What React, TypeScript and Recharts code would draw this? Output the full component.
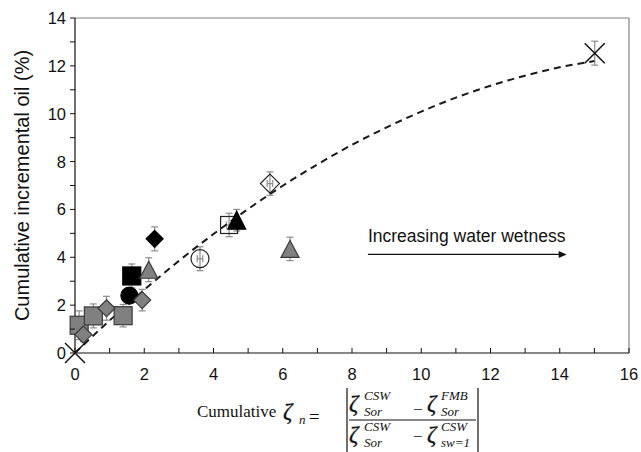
import React from "react";
import { ErrorBar, Label, ReferenceLine, Scatter, ScatterChart, XAxis, YAxis } from "recharts";

const SANS = "Arial, 'Liberation Sans', sans-serif";
const SERIF = "'Times New Roman', 'Liberation Serif', serif";

const X_TICKS = [0, 1, 2, 3, 4, 5, 6, 7, 8, 9, 10, 11, 12, 13, 14, 15, 16];
const Y_TICKS = [0, 1, 2, 3, 4, 5, 6, 7, 8, 9, 10, 11, 12, 13, 14];

// dashed trend line
const trendX = [0, 1, 2, 3, 4, 5, 6, 7, 8, 9, 10, 11, 12, 13, 14, 15];
const trendY = [0, 1.36, 2.64, 3.85, 4.97, 6.02, 6.99, 7.88, 8.7, 9.43, 10.09, 10.67, 11.17, 11.59, 11.94, 12.2];

const crossPts = [
  { x: 0, y: 0, err: 0 },
  { x: 15.01, y: 12.53, err: 0.5 },
];
const graySquarePts = [
  { x: 0.12, y: 1.16, err: 0.6 },
  { x: 0.53, y: 1.55, err: 0.5 },
  { x: 1.39, y: 1.56, err: 0.47 },
];
const grayDiamondPts = [
  { x: 0.24, y: 0.77, err: 0.3 },
  { x: 0.91, y: 1.87, err: 0.5 },
  { x: 1.94, y: 2.21, err: 0.45 },
];
const blackCirclePts = [{ x: 1.57, y: 2.4, err: 0.2 }];
const blackSquarePts = [{ x: 1.64, y: 3.22, err: 0.5 }];
const grayTrianglePts = [
  { x: 2.13, y: 3.48, err: 0.5 },
  { x: 6.21, y: 4.35, err: 0.49 },
];
const blackDiamondPts = [{ x: 2.3, y: 4.77, err: 0.5 }];
const openCirclePts = [{ x: 3.61, y: 3.94, err: 0.5, xerr: 0.08 }];
const openSquarePts = [{ x: 4.45, y: 5.35, err: 0.49, xerr: 0.08 }];
const blackTrianglePts = [{ x: 4.67, y: 5.55, err: 0.45 }];
const openDiamondPts = [{ x: 5.63, y: 7.08, err: 0.49, xerr: 0.08 }];

const arrowFrom = { x: 8.46, y: 4.12 };
const arrowTo = { x: 14.2, y: 4.12 };

const trendData = trendX.map((x, i) => ({ x, y: trendY[i] }));

const GRAY = "#808080";
const EDGE = "#3a3a3a";
const BAR = "#8c8c8c";

const square = (side: number, fill: string, stroke: string) => (p: any) => (
  <rect x={p.cx - side / 2} y={p.cy - side / 2} width={side} height={side} fill={fill} stroke={stroke} strokeWidth={1.2} />
);
const diamond = (h: number, fill: string, stroke: string) => (p: any) => (
  <polygon
    points={`${p.cx},${p.cy - h} ${p.cx + h},${p.cy} ${p.cx},${p.cy + h} ${p.cx - h},${p.cy}`}
    fill={fill}
    stroke={stroke}
    strokeWidth={1.2}
  />
);
const triangle = (w: number, h: number, fill: string, stroke: string) => (p: any) => (
  <polygon
    points={`${p.cx},${p.cy - h / 2} ${p.cx + w / 2},${p.cy + h / 2} ${p.cx - w / 2},${p.cy + h / 2}`}
    fill={fill}
    stroke={stroke}
    strokeWidth={1.2}
  />
);
const circle = (r: number, fill: string, stroke: string) => (p: any) => (
  <circle cx={p.cx} cy={p.cy} r={r} fill={fill} stroke={stroke} strokeWidth={1.2} />
);
const cross = (h: number) => (p: any) => (
  <g stroke="#111" strokeWidth={1.5}>
    <line x1={p.cx - h} y1={p.cy - h} x2={p.cx + h} y2={p.cy + h} />
    <line x1={p.cx - h} y1={p.cy + h} x2={p.cx + h} y2={p.cy - h} />
  </g>
);

function XTick(props: any) {
  const { x, y, payload } = props;
  const v = payload.value;
  return (
    <g>
      <line x1={x} y1={y} x2={x} y2={y - 5} stroke="#111" />
      {v % 2 === 0 && (
        <text x={x} y={y + 27} textAnchor="middle" fontSize={16.5} fontFamily={SANS} fill="#111">
          {v}
        </text>
      )}
    </g>
  );
}

function YTick(props: any) {
  const { x, y, payload } = props;
  const v = payload.value;
  return (
    <g>
      <line x1={x - 5} y1={y} x2={x} y2={y} stroke="#111" />
      {v % 2 === 0 && (
        <text x={x - 9} y={y + 6} textAnchor="end" fontSize={16.5} fontFamily={SANS} fill="#111">
          {v}
        </text>
      )}
    </g>
  );
}

function YTitle(props: any) {
  const vb = props.viewBox;
  const cx = vb.x + 22;
  const cy = vb.y + vb.height / 2;
  return (
    <text
      x={cx}
      y={cy}
      transform={`rotate(-90, ${cx}, ${cy})`}
      textAnchor="middle"
      dominantBaseline="central"
      fontSize={20}
      fontFamily={SANS}
      fill="#111"
    >
      Cumulative incremental oil (%)
    </text>
  );
}

function FormulaLabel(props: any) {
  const vb = props.viewBox;
  const ox = vb.x + 122;
  const oy = vb.y;
  const it = { fontFamily: SERIF, fontStyle: "italic" as const, fill: "#111" };
  const zeta = (x: number, y: number, size = 23) => (
    <text x={x} y={y} fontSize={size} {...it} stroke="#111" strokeWidth={0.3}>
      ζ
    </text>
  );
  const small = (x: number, y: number, s: string) => (
    <text x={x} y={y} fontSize={13} {...it}>
      {s}
    </text>
  );
  return (
    <g>
      <text x={ox} y={oy + 64} fontSize={17} fontFamily={SERIF} fill="#111">
        Cumulative
      </text>
      {zeta(ox + 86, oy + 66)}
      {small(ox + 102, oy + 71, "n")}
      <text x={ox + 112} y={oy + 70} fontSize={19} fontFamily={SERIF} fill="#111">
        =
      </text>
      <line x1={ox + 150} y1={oy + 35} x2={ox + 150} y2={oy + 102} stroke="#111" strokeWidth={1.2} />
      <line x1={ox + 281} y1={oy + 35} x2={ox + 281} y2={oy + 102} stroke="#111" strokeWidth={1.2} />
      {zeta(ox + 152, oy + 58)}
      {small(ox + 167, oy + 47, "CSW")}
      {small(ox + 167, oy + 63, "Sor")}
      <text x={ox + 216} y={oy + 62} fontSize={17} fontFamily={SERIF} fill="#111">
        −
      </text>
      {zeta(ox + 230, oy + 58)}
      {small(ox + 244, oy + 47, "FMB")}
      {small(ox + 244, oy + 63, "Sor")}
      <line x1={ox + 152} y1={oy + 67} x2={ox + 279} y2={oy + 67} stroke="#111" strokeWidth={1.2} />
      {zeta(ox + 152, oy + 89)}
      {small(ox + 167, oy + 78, "CSW")}
      {small(ox + 167, oy + 94, "Sor")}
      <text x={ox + 216} y={oy + 89} fontSize={17} fontFamily={SERIF} fill="#111">
        −
      </text>
      {zeta(ox + 230, oy + 89)}
      {small(ox + 244, oy + 78, "CSW")}
      {small(ox + 244, oy + 94, "sw=1")}
    </g>
  );
}

function ArrowNote(props: any) {
  const { x1, y1, x2, y2 } = props;
  return (
    <g>
      <text x={x1} y={y1 - 12.5} fontSize={17.5} fontFamily={SANS} fill="#111">
        Increasing water wetness
      </text>
      <line x1={x1} y1={y1} x2={x2 - 6} y2={y2} stroke="#111" strokeWidth={1.2} />
      <polygon points={`${x2},${y2} ${x2 - 8},${y2 - 3.5} ${x2 - 8},${y2 + 3.5}`} fill="#111" />
    </g>
  );
}

export default function App() {
  return (
    <div style={{ position: "absolute", left: 0, top: 0, width: 641, height: 452, background: "#fff" }}>
      <ScatterChart width={641} height={452} margin={{ top: 18, right: 12, bottom: 0, left: 0 }}>
        <XAxis
          type="number"
          dataKey="x"
          domain={[0, 16]}
          ticks={X_TICKS}
          interval={0}
          tickLine={false}
          tickSize={0}
          tickMargin={0}
          tick={XTick}
          height={99}
          axisLine={{ stroke: "#111", strokeWidth: 1.2 }}
        >
          <Label content={FormulaLabel} />
        </XAxis>
        <YAxis
          type="number"
          dataKey="y"
          domain={[0, 14]}
          ticks={Y_TICKS}
          interval={0}
          tickLine={false}
          tickSize={0}
          tickMargin={0}
          tick={YTick}
          width={75}
          axisLine={{ stroke: "#111", strokeWidth: 1.2 }}
        >
          <Label content={YTitle} />
        </YAxis>
        <ReferenceLine y={14} stroke={GRAY} strokeWidth={1.2} />
        <ReferenceLine x={16} stroke={GRAY} strokeWidth={1.2} />
        <ReferenceLine segment={[arrowFrom, arrowTo]} shape={ArrowNote} />

        <Scatter
          data={trendData}
          shape={() => <g />}
          line={{ stroke: "#1a1a1a", strokeWidth: 2, strokeDasharray: "7 5" }}
          lineJointType="monotoneX"
          isAnimationActive={false}
        />

        <Scatter data={crossPts} shape={cross(10)} isAnimationActive={false}>
          <ErrorBar dataKey="err" direction="y" width={3.5} stroke={BAR} strokeWidth={1.2} />
        </Scatter>
        <Scatter data={graySquarePts} shape={square(18, GRAY, EDGE)} isAnimationActive={false}>
          <ErrorBar dataKey="err" direction="y" width={3.5} stroke={BAR} strokeWidth={1.2} />
        </Scatter>
        <Scatter data={blackCirclePts} shape={circle(8.5, "#000", "#000")} isAnimationActive={false}>
          <ErrorBar dataKey="err" direction="y" width={3.5} stroke={BAR} strokeWidth={1.2} />
        </Scatter>
        <Scatter data={grayDiamondPts} shape={diamond(8.5, GRAY, EDGE)} isAnimationActive={false}>
          <ErrorBar dataKey="err" direction="y" width={3.5} stroke={BAR} strokeWidth={1.2} />
        </Scatter>
        <Scatter data={blackSquarePts} shape={square(18, "#000", "#000")} isAnimationActive={false}>
          <ErrorBar dataKey="err" direction="y" width={3.5} stroke={BAR} strokeWidth={1.2} />
        </Scatter>
        <Scatter data={grayTrianglePts} shape={triangle(18, 17, GRAY, EDGE)} isAnimationActive={false}>
          <ErrorBar dataKey="err" direction="y" width={3.5} stroke={BAR} strokeWidth={1.2} />
        </Scatter>
        <Scatter data={blackDiamondPts} shape={diamond(8.5, "#000", "#000")} isAnimationActive={false}>
          <ErrorBar dataKey="err" direction="y" width={3.5} stroke={BAR} strokeWidth={1.2} />
        </Scatter>
        <Scatter data={openCirclePts} shape={circle(9, "none", "#222")} isAnimationActive={false}>
          <ErrorBar dataKey="err" direction="y" width={3.5} stroke={BAR} strokeWidth={1.2} />
          <ErrorBar dataKey="xerr" direction="x" width={3.5} stroke={BAR} strokeWidth={1.2} />
        </Scatter>
        <Scatter data={openSquarePts} shape={square(17, "none", "#222")} isAnimationActive={false}>
          <ErrorBar dataKey="err" direction="y" width={3.5} stroke={BAR} strokeWidth={1.2} />
          <ErrorBar dataKey="xerr" direction="x" width={3.5} stroke={BAR} strokeWidth={1.2} />
        </Scatter>
        <Scatter data={blackTrianglePts} shape={triangle(18, 18, "#000", "#000")} isAnimationActive={false}>
          <ErrorBar dataKey="err" direction="y" width={3.5} stroke={BAR} strokeWidth={1.2} />
        </Scatter>
        <Scatter data={openDiamondPts} shape={diamond(9.5, "none", "#222")} isAnimationActive={false}>
          <ErrorBar dataKey="err" direction="y" width={3.5} stroke={BAR} strokeWidth={1.2} />
          <ErrorBar dataKey="xerr" direction="x" width={3.5} stroke={BAR} strokeWidth={1.2} />
        </Scatter>
      </ScatterChart>
    </div>
  );
}
